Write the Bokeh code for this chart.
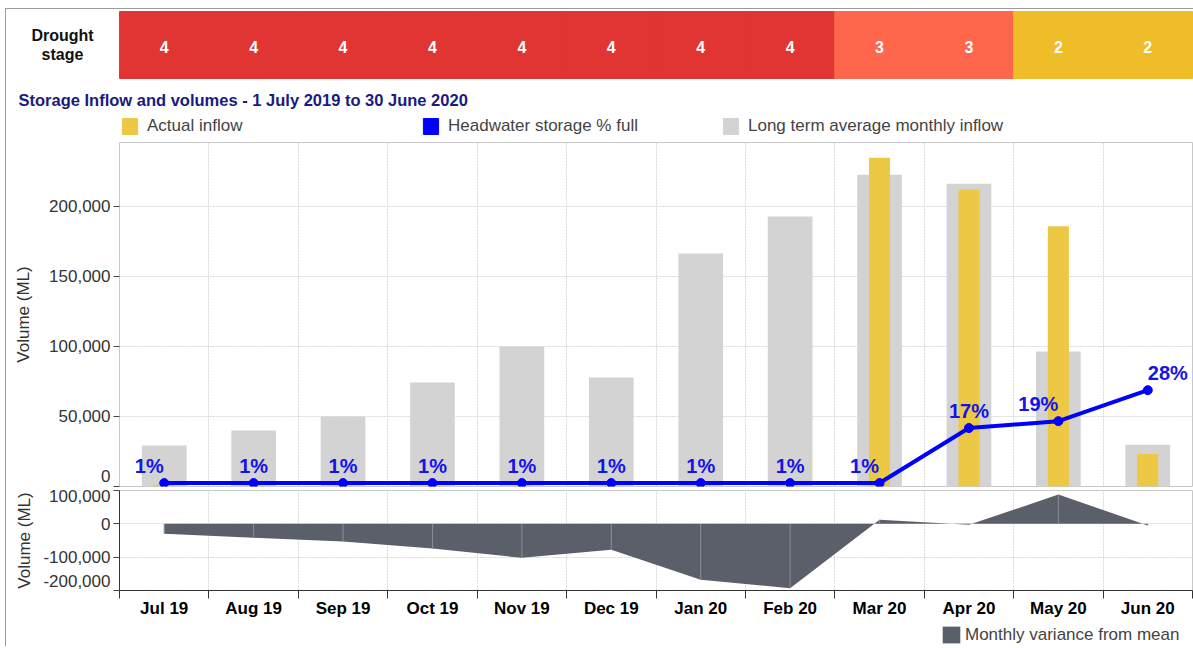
from bokeh.plotting import figure
from bokeh.models import (Range1d, FixedTicker, Label, Legend, LegendItem,
                          ColumnDataSource)
from bokeh.layouts import column
from bokeh.embed import file_html
from bokeh.resources import INLINE
from bokeh.core.properties import value

# ---------------- data ----------------
months = ["Jul 19", "Aug 19", "Sep 19", "Oct 19", "Nov 19", "Dec 19",
          "Jan 20", "Feb 20", "Mar 20", "Apr 20", "May 20", "Jun 20"]
drought_stage = [4, 4, 4, 4, 4, 4, 4, 4, 3, 3, 2, 2]
actual_inflow = [1200, 900, 700, 600, 900, 700, 800, 600,
                 234800, 212100, 185900, 23300]
long_term_avg = [29300, 40000, 50000, 74300, 100000, 77900,
                 166400, 192900, 222600, 216200, 96400, 29800]
storage_pct = [1, 1, 1, 1, 1, 1, 1, 1, 1, 17, 19, 28]
variance = [-30000, -42000, -53000, -74000, -102000, -78000,
            -168000, -193000, 12000, -3000, 88000, -5000]
main_ticks = [0, 50000, 100000, 150000, 200000]
var_ticks = [-200000, -100000, 0, 100000]

# ---------------- style ----------------
FONT = "Liberation Sans"
W = 1193
LEFT = 119
N = len(months)
UNIT = (W - LEFT - 1) / N
STAGE_COLORS = {4: "#e03532", 3: "#ff674d", 2: "#efbd29"}
ACT = "#ecc844"
AVG = "#d3d3d3"
BLUE = "#0000ff"
VAR = "#5a5f69"
GRID = "#d8d8d8"
label_dx = [-15, 0, 0, 0, 0, 0, 0, 0, -15, 0, -20, 20]
# tick-label positions nudged inward as in the original
main_label_pos = [7800, 50000, 100000, 150000, 200000]
var_label_pos = [-170000, -100000, 0, 85000]

xc = [i + 0.5 for i in range(N)]
bounds = list(range(N + 1))
xr = Range1d(0, N)
full_xr = Range1d(-LEFT / UNIT, N + 1 / UNIT)   # spans the whole page width


def bare(height):
    f = figure(width=W, height=height, x_range=full_xr,
               y_range=Range1d(height, 0), toolbar_location=None,
               output_backend="svg", x_axis_location=None, y_axis_location=None,
               min_border=0, outline_line_color=None)
    f.grid.grid_line_color = None
    f.frame_align = False
    return f


def legend(items, loc, gw, gh, standoff):
    return Legend(items=items, location=loc, orientation="horizontal",
                  glyph_width=gw, glyph_height=gh, label_standoff=standoff,
                  padding=0, margin=0, border_line_color=None,
                  background_fill_alpha=0, label_text_font=FONT,
                  label_text_font_size="17px", label_text_color="#444444")


# ---------------- header (drought stage, title, legend) ----------------
header = bare(142)
band = ColumnDataSource(dict(
    left=[i for i in range(N)], right=[i + 1 for i in range(N)], x=xc,
    color=[STAGE_COLORS[s] for s in drought_stage],
    label=[str(s) for s in drought_stage]))
header.quad(left="left", right="right", top=11, bottom=78, fill_color="color",
            line_color="color", source=band)
header.text(x="x", y=46, text="label", source=band, text_color="white",
            text_font=value(FONT), text_font_style="bold", text_font_size="16px",
            text_align="center", text_baseline="middle")

for txt, yy in [("Drought", 35), ("stage", 54)]:
    header.add_layout(Label(x=62, y=yy, x_units="screen", text=txt,
                            text_font=FONT, text_font_style="bold",
                            text_font_size="16px", text_color="#111111",
                            text_align="center", text_baseline="middle"))
header.add_layout(Label(x=18, y=99, x_units="screen",
                        text="Storage Inflow and volumes - 1 July 2019 to 30 June 2020",
                        text_font=FONT, text_font_style="bold", text_font_size="16.5px",
                        text_color="#1a1a80", text_align="left",
                        text_baseline="middle"))

nan_tops = [float("nan")] * N
r_act = header.vbar(x=xc, top=nan_tops, width=0.5, fill_color=ACT, line_color=ACT)
r_hw = header.vbar(x=xc, top=nan_tops, width=0.5, fill_color=BLUE, line_color=BLUE)
r_avg = header.vbar(x=xc, top=nan_tops, width=0.5, fill_color=AVG, line_color=AVG)
for r, lab, lx in [(r_act, "Actual inflow", 120),
                   (r_hw, "Headwater storage % full", 421),
                   (r_avg, "Long term average monthly inflow", 721)]:
    header.add_layout(legend([LegendItem(label=lab, renderers=[r])],
                             (lx, 6), 19, 20, 8))

# ---------------- main chart ----------------
main = figure(width=W, height=346, x_range=xr, y_range=Range1d(0, 245700),
              toolbar_location=None, output_backend="svg", x_axis_location=None,
              min_border_left=LEFT, min_border_right=1, min_border_top=0,
              min_border_bottom=2, outline_line_color="#c8c8c8")
main.extra_y_ranges = {"pct": Range1d(0, 100)}

main.vbar(x=xc, top=long_term_avg, width=0.5, fill_color=AVG, line_color=None)
main.vbar(x=xc, top=actual_inflow, width=0.235, fill_color=ACT, line_color=None)
main.line(xc, storage_pct, y_range_name="pct", line_color=BLUE, line_width=4)
main.scatter(xc, storage_pct, y_range_name="pct", size=9, fill_color=BLUE,
             line_color=BLUE)
pct_src = ColumnDataSource(dict(x=xc, y=storage_pct, dx=label_dx,
                                lab=[f"{v}%" for v in storage_pct]))
main.text(x="x", y="y", text="lab", x_offset="dx", y_offset=-17,
          y_range_name="pct", source=pct_src, text_color="#1414e6",
          text_font=value(FONT), text_font_style="bold", text_font_size="20px",
          text_align="center", text_baseline="middle")


def style_y(ax, ticks, label_pos, standoff, line_color):
    ax.ticker = FixedTicker(ticks=label_pos, minor_ticks=ticks)
    ax.major_label_overrides = {p: f"{t:,}" for p, t in zip(label_pos, ticks)}
    ax.major_tick_line_color = None
    ax.major_tick_out = 6
    ax.major_tick_in = 0
    ax.minor_tick_line_color = "#444444"
    ax.minor_tick_out = 6
    ax.minor_tick_in = 0
    ax.axis_line_color = line_color
    ax.major_label_standoff = 3
    ax.major_label_text_font = FONT
    ax.major_label_text_font_size = "17px"
    ax.major_label_text_color = "#333333"
    ax.axis_label = "Volume (ML)"
    ax.axis_label_text_font = FONT
    ax.axis_label_text_font_style = "normal"
    ax.axis_label_text_font_size = "17px"
    ax.axis_label_text_color = "#333333"
    ax.axis_label_standoff = standoff


style_y(main.yaxis[0], main_ticks, main_label_pos, 13, None)
main.xgrid.ticker = FixedTicker(ticks=bounds[1:-1])
main.ygrid.ticker = FixedTicker(ticks=main_ticks)
for g in (main.xgrid[0], main.ygrid[0]):
    g.grid_line_color = GRID
    g.grid_line_dash = "2 1"

# ---------------- variance chart ----------------
bottom = figure(width=W, height=134, x_range=xr, y_range=Range1d(-200000, 100000),
                toolbar_location=None, output_backend="svg",
                min_border_left=LEFT, min_border_right=1, min_border_top=2,
                min_border_bottom=32, outline_line_color="#c8c8c8")
bottom.varea(x=xc, y1=0, y2=variance, fill_color=VAR)
bottom.segment(x0=xc, y0=[0] * N, x1=xc, y1=variance, line_color="#8a8f98",
               line_width=1)

xa = bottom.xaxis[0]
xa.ticker = FixedTicker(ticks=xc, minor_ticks=bounds)
xa.major_label_overrides = {c: m for c, m in zip(xc, months)}
xa.major_tick_line_color = None
xa.major_tick_out = 6
xa.major_tick_in = 0
xa.minor_tick_line_color = "#333333"
xa.minor_tick_out = 8
xa.minor_tick_in = 0
xa.axis_line_color = "#333333"
xa.major_label_standoff = 0
xa.major_label_text_font = FONT
xa.major_label_text_font_style = "bold"
xa.major_label_text_font_size = "17px"
xa.major_label_text_color = "#000000"

style_y(bottom.yaxis[0], var_ticks, var_label_pos, 6, "#333333")
bottom.xgrid.ticker = FixedTicker(ticks=bounds[1:-1])
bottom.ygrid.ticker = FixedTicker(ticks=var_ticks)
for g in (bottom.xgrid[0], bottom.ygrid[0]):
    g.grid_line_color = GRID
    g.grid_line_dash = "2 1"

# ---------------- variance legend ----------------
foot = bare(24)
r_var = foot.varea(x=xc, y1=nan_tops, y2=nan_tops, fill_color=VAR)
foot.add_layout(legend([LegendItem(label="Monthly variance from mean",
                                   renderers=[r_var])], (940, 1), 22, 21, 3))

frame_css = (":host::before { content: ''; position: absolute; left: 5px; top: 8px;"
             " right: 0; bottom: 0; border-left: 1px solid #9a9a9a;"
             " border-top: 1px solid #9a9a9a; pointer-events: none; z-index: 10; }")
layout = column(header, main, bottom, foot, spacing=0, stylesheets=[frame_css])
open("out.html", "w").write(file_html(layout, INLINE))
